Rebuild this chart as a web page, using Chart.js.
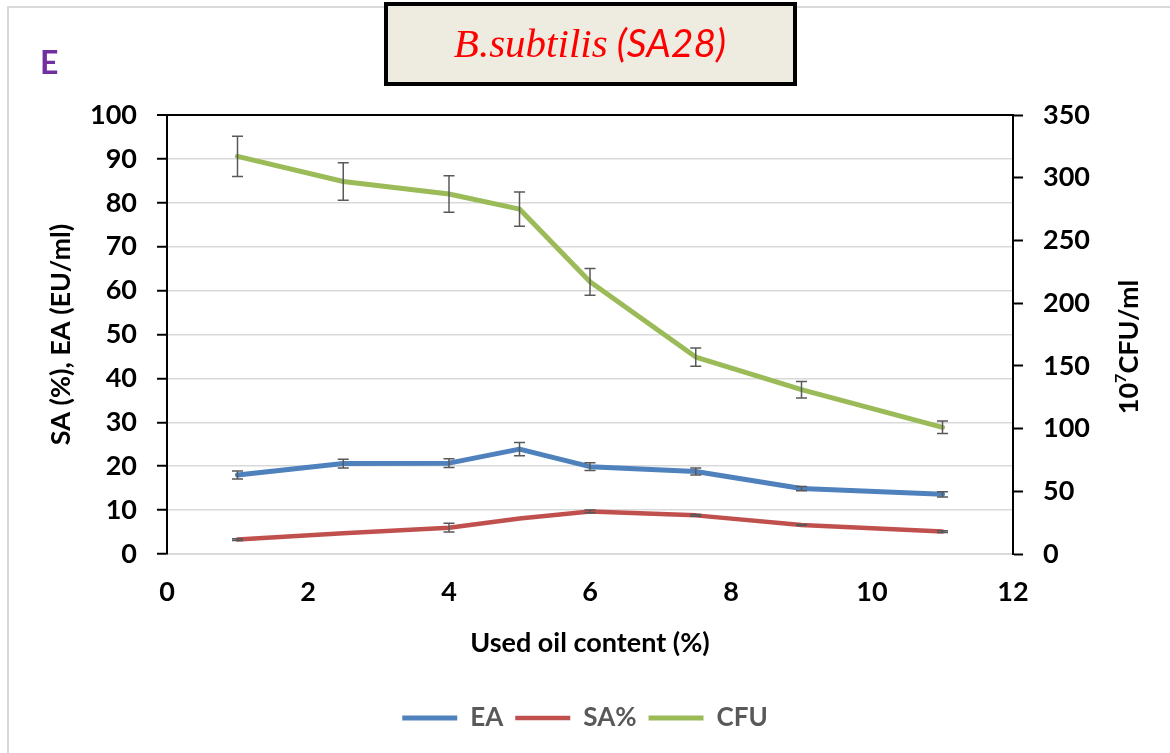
<!DOCTYPE html>
<html>
<head>
<meta charset="utf-8">
<script src="https://cdn.jsdelivr.net/npm/chart.js@4.4.1/dist/chart.umd.min.js"></script>
<style>
  body { margin: 0; background: #fff; }
</style>
</head>
<body>
<canvas id="chart" width="1170" height="753"></canvas>
<script>
// values
var oilContent = [1, 2.5, 4, 5, 6, 7.5, 9, 11];

var eaValues = [18.0, 20.6, 20.7, 23.9, 19.9, 18.8, 14.9, 13.6];
var eaErrors = [0.9, 1.0, 1.0, 1.5, 0.9, 0.8, 0.5, 0.6];

var saValues = [3.3, 4.7, 6.0, 8.1, 9.7, 8.8, 6.6, 5.1];
var saErrors = [0.2, 0, 1.0, 0, 0.3, 0.2, 0.1, 0.2];

var cfuValues = [317, 297, 287, 275, 217, 157, 131, 101];
var cfuErrors = [16, 15, 14.5, 13.7, 10.7, 7.3, 6.6, 5];

var seriesLabels = ['EA', 'SA%', 'CFU'];
var seriesColors = ['#4f81bd', '#c0504d', '#9bbb59'];

Chart.defaults.font.family = "Lato, 'Open Sans', sans-serif";

function toPoints(xs, ys){
  return xs.map(function(x, i){ return {x: x, y: ys[i]}; });
}

// error bars, drawn with the dataset's own scales
var errorBars = {
  id: 'errorBars',
  afterDatasetsDraw: function(chart){
    var ctx = chart.ctx;
    chart.data.datasets.forEach(function(ds, i){
      if (!ds.errors) return;
      var meta = chart.getDatasetMeta(i);
      var xs = chart.scales[meta.xAxisID], ys = chart.scales[meta.yAxisID];
      ctx.save();
      ctx.strokeStyle = '#595959';
      ctx.lineWidth = 1.5;
      ds.data.forEach(function(p, j){
        var e = ds.errors[j];
        if (!e) return;
        var x = xs.getPixelForValue(p.x);
        var yt = ys.getPixelForValue(p.y + e);
        var yb = ys.getPixelForValue(p.y - e);
        ctx.beginPath();
        ctx.moveTo(x, yt); ctx.lineTo(x, yb);
        ctx.moveTo(x - 5.5, yt); ctx.lineTo(x + 5.5, yt);
        ctx.moveTo(x - 5.5, yb); ctx.lineTo(x + 5.5, yb);
        ctx.stroke();
      });
      ctx.restore();
    });
  }
};

// frame, panel letter, title box, right axis title
var decorations = {
  id: 'decorations',
  beforeDraw: function(chart){
    var ctx = chart.ctx;
    ctx.save();
    ctx.fillStyle = '#fff';
    ctx.fillRect(0, 0, chart.width, chart.height);
    ctx.strokeStyle = '#d9d9d9';
    ctx.lineWidth = 2;
    ctx.strokeRect(8, 7, 1300, 900);

    ctx.fillStyle = '#7030a0';
    ctx.font = "bold 32px Lato, sans-serif";
    ctx.textBaseline = 'alphabetic';
    ctx.textAlign = 'left';
    ctx.fillText('E', 40, 74);

    ctx.fillStyle = '#eeece1';
    ctx.fillRect(386, 4, 409, 80);
    ctx.strokeStyle = '#000';
    ctx.lineWidth = 4;
    ctx.strokeRect(386, 4, 409, 80);

    var t1 = 'B.subtilis', t2 = ' (SA28)';
    var f1 = "italic 41px 'Liberation Serif', serif";
    var f2 = "italic 39px Lato, sans-serif";
    ctx.font = f1; var w1 = ctx.measureText(t1).width;
    ctx.font = f2; var w2 = ctx.measureText(t2).width;
    var sx = 590 - (w1 + w2) / 2;
    ctx.fillStyle = '#ff0000';
    ctx.font = f1; ctx.fillText(t1, sx, 57);
    ctx.font = f2; ctx.fillText(t2, sx + w1, 57);
    ctx.restore();
  },
  afterDraw: function(chart){
    var ctx = chart.ctx;
    ctx.save();
    ctx.translate(1129, 347);
    ctx.rotate(-Math.PI / 2);
    ctx.fillStyle = '#000';
    ctx.textBaseline = 'middle';
    var big = "bold 27px Lato, sans-serif", small = "bold 16px Lato, sans-serif";
    ctx.font = big; var a = ctx.measureText('10').width, c = ctx.measureText('CFU/ml').width;
    ctx.font = small; var b = ctx.measureText('7').width;
    var x0 = -(a + b + c) / 2;
    ctx.textAlign = 'left';
    ctx.font = big; ctx.fillText('10', x0, 0);
    ctx.font = small; ctx.fillText('7', x0 + a, -8);
    ctx.font = big; ctx.fillText('CFU/ml', x0 + a + b, 0);
    ctx.restore();
  }
};

var tickFont = {size: 27, weight: 'bold'};
var titleFont = {size: 27, weight: 'bold'};

var chart = new Chart(document.getElementById('chart'), {
  type: 'line',
  data: {
    datasets: [
      {
        label: seriesLabels[0],
        data: toPoints(oilContent, eaValues),
        errors: eaErrors,
        borderColor: seriesColors[0],
        backgroundColor: seriesColors[0],
        borderWidth: 5,
        yAxisID: 'y'
      },
      {
        label: seriesLabels[1],
        data: toPoints(oilContent, saValues),
        errors: saErrors,
        borderColor: seriesColors[1],
        backgroundColor: seriesColors[1],
        borderWidth: 4.5,
        yAxisID: 'y'
      },
      {
        label: seriesLabels[2],
        data: toPoints(oilContent, cfuValues),
        errors: cfuErrors,
        borderColor: seriesColors[2],
        backgroundColor: seriesColors[2],
        borderWidth: 5,
        yAxisID: 'y1'
      }
    ]
  },
  options: {
    responsive: false,
    animation: false,
    elements: {
      line: {tension: 0, borderCapStyle: 'round', borderJoinStyle: 'round'},
      point: {radius: 0, hoverRadius: 0}
    },
    layout: {padding: {top: 115, left: 0, right: 0, bottom: 12}},
    plugins: {
      legend: {
        position: 'bottom',
        labels: {
          usePointStyle: true,
          pointStyle: 'line',
          pointStyleWidth: 55,
          color: '#595959',
          font: {size: 26, weight: 'bold'},
          padding: 12
        }
      },
      tooltip: {enabled: false}
    },
    scales: {
      x: {
        type: 'linear',
        min: 0,
        max: 12,
        ticks: {stepSize: 2, padding: 22, color: '#000', font: tickFont},
        grid: {display: false, drawTicks: false},
        border: {color: '#d9d9d9', width: 2},
        title: {display: true, text: 'Used oil content (%)', color: '#000', font: titleFont, padding: {top: 0, bottom: 34}},
        afterFit: function(s){ s.height = 139; }
      },
      y: {
        position: 'left',
        min: 0,
        max: 100,
        ticks: {stepSize: 10, padding: 20, color: '#000', font: tickFont},
        grid: {
          color: function(c){ return c.tick && c.tick.value === 100 ? '#000' : '#d9d9d9'; },
          lineWidth: function(c){ return c.tick && c.tick.value === 100 ? 2 : 1.5; },
          tickColor: '#000',
          tickLength: 10,
          tickWidth: 2
        },
        border: {color: '#000', width: 2},
        title: {display: true, text: 'SA (%), EA (EU/ml)', color: '#000', font: titleFont, padding: {top: 45, bottom: 0}},
        afterFit: function(s){ s.width = 167; }
      },
      y1: {
        position: 'right',
        min: 0,
        max: 350,
        ticks: {stepSize: 50, padding: 20, color: '#000', font: tickFont},
        grid: {drawOnChartArea: false, color: '#000', tickColor: '#000', tickLength: 10, tickWidth: 2},
        border: {color: '#000', width: 2},
        afterFit: function(s){ s.width = 157; }
      }
    }
  },
  plugins: [decorations, errorBars]
});
</script>
</body>
</html>
